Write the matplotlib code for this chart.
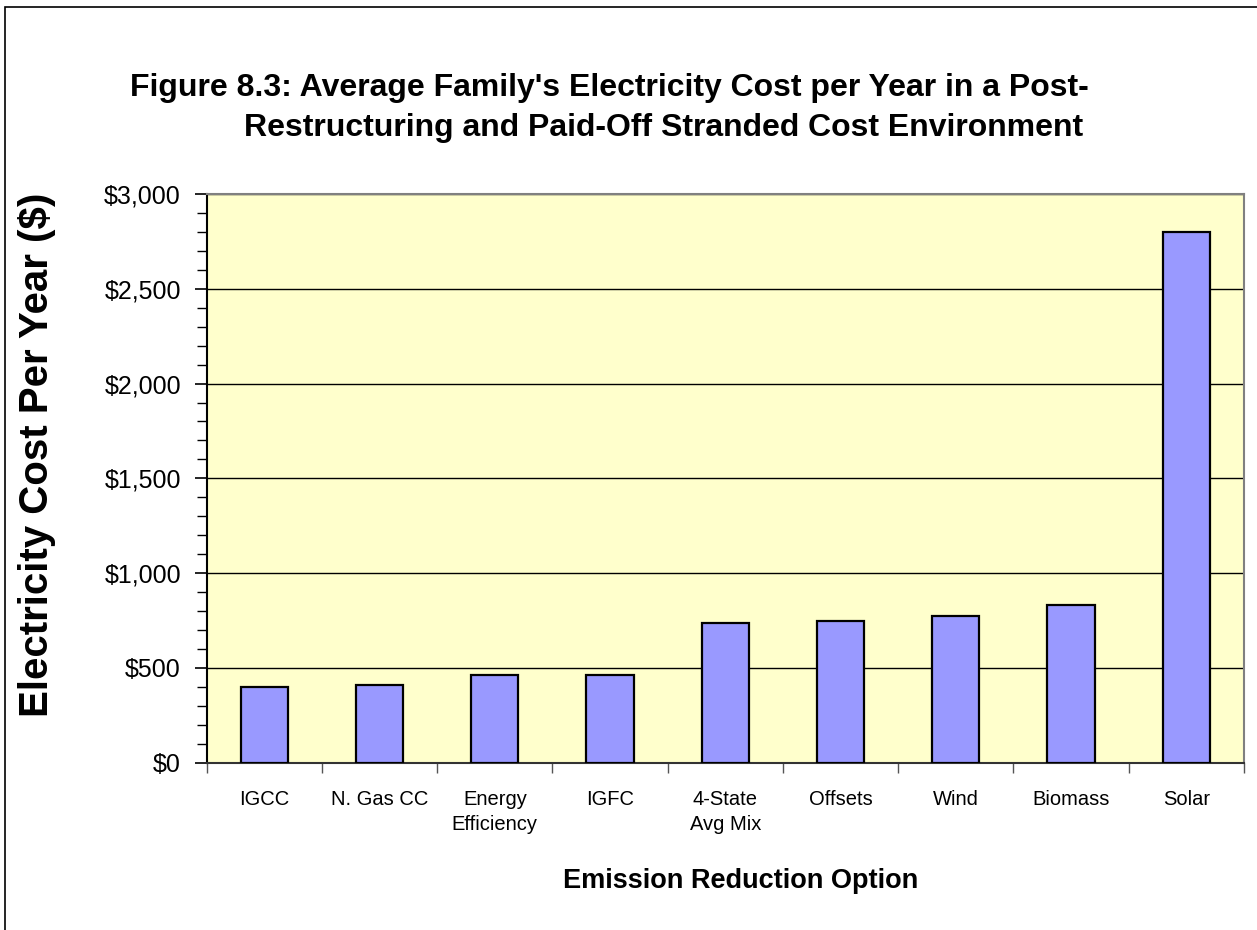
import matplotlib
matplotlib.use("Agg")
import matplotlib.pyplot as plt
from matplotlib.patches import Rectangle
from matplotlib.ticker import MultipleLocator, FuncFormatter
import numpy as np

categories = ["IGCC", "N. Gas CC", "Energy\nEfficiency", "IGFC", "4-State\nAvg Mix",
              "Offsets", "Wind", "Biomass", "Solar"]
costs = [400, 410, 465, 465, 737, 747, 775, 830, 2797]

title_line1 = "Figure 8.3: Average Family's Electricity Cost per Year in a Post-"
title_line2 = "Restructuring and Paid-Off Stranded Cost Environment"
y_label = "Electricity Cost Per Year ($)"
x_label = "Emission Reduction Option"

plt.rcParams["font.family"] = ["Liberation Sans", "DejaVu Sans"]

W, H = 1257, 930
fig = plt.figure(figsize=(W / 100, H / 100), dpi=100)
fig.patch.set_facecolor("white")

# outer chart frame (left/top visible)
fig.patches.append(Rectangle((5 / W, -0.05), 1.2, 1 - 7 / H + 0.05,
                             transform=fig.transFigure, fill=False,
                             edgecolor="black", linewidth=1.2))

ax = fig.add_axes([206.7 / W, 1 - 762.7 / H, (1244 - 206.7) / W, (762.7 - 194) / H])
ax.set_facecolor("#FFFFCC")

x = np.arange(len(categories))
ax.bar(x, costs, width=0.41, color="#9999FF", edgecolor="black", linewidth=1.6, zorder=3)

ax.set_xlim(-0.5, len(categories) - 0.5)
ax.set_ylim(0, 3000)

ax.yaxis.set_major_locator(MultipleLocator(500))
ax.yaxis.set_minor_locator(MultipleLocator(100))
ax.yaxis.set_major_formatter(FuncFormatter(lambda v, p: f"${v:,.0f}"))
ax.grid(axis="y", which="major", color="black", linewidth=1.0, zorder=1)
ax.tick_params(axis="y", which="major", direction="out", length=9, width=1.2,
               labelsize=18, pad=9.5)
ax.tick_params(axis="y", which="minor", direction="out", length=7, width=1.0)

# category boundaries as tick marks, labels at the centres
ax.set_xticks(np.arange(-0.5, len(categories) + 0.5, 1.0))
ax.set_xticklabels([])
ax.tick_params(axis="x", which="major", direction="out", length=7, width=1.0,
               color="#555555")
ax.set_xticks(x, minor=True)
ax.set_xticklabels(categories, minor=True, fontsize=14.5, linespacing=1.35)
ax.tick_params(axis="x", which="minor", length=0, pad=20)

for side in ("top", "right"):
    ax.spines[side].set_color("#808080")
    ax.spines[side].set_linewidth(1.5)
ax.spines["left"].set_color("black")
ax.spines["left"].set_linewidth(1.5)
ax.spines["bottom"].set_color("#333333")
ax.spines["bottom"].set_linewidth(1.5)

fig.text(37 / W, 1 - 455 / H, y_label, rotation=90, ha="center", va="center",
         fontsize=29, fontweight="bold")
fig.text(741 / W, 1 - 881 / H, x_label, ha="center", va="center",
         fontsize=19.5, fontweight="bold")
fig.text(609 / W, 1 - 88 / H, title_line1, ha="center", va="center",
         fontsize=23, fontweight="bold")
fig.text(664 / W, 1 - 128 / H, title_line2, ha="center", va="center",
         fontsize=23, fontweight="bold")

fig.savefig("out.png", dpi=100)
